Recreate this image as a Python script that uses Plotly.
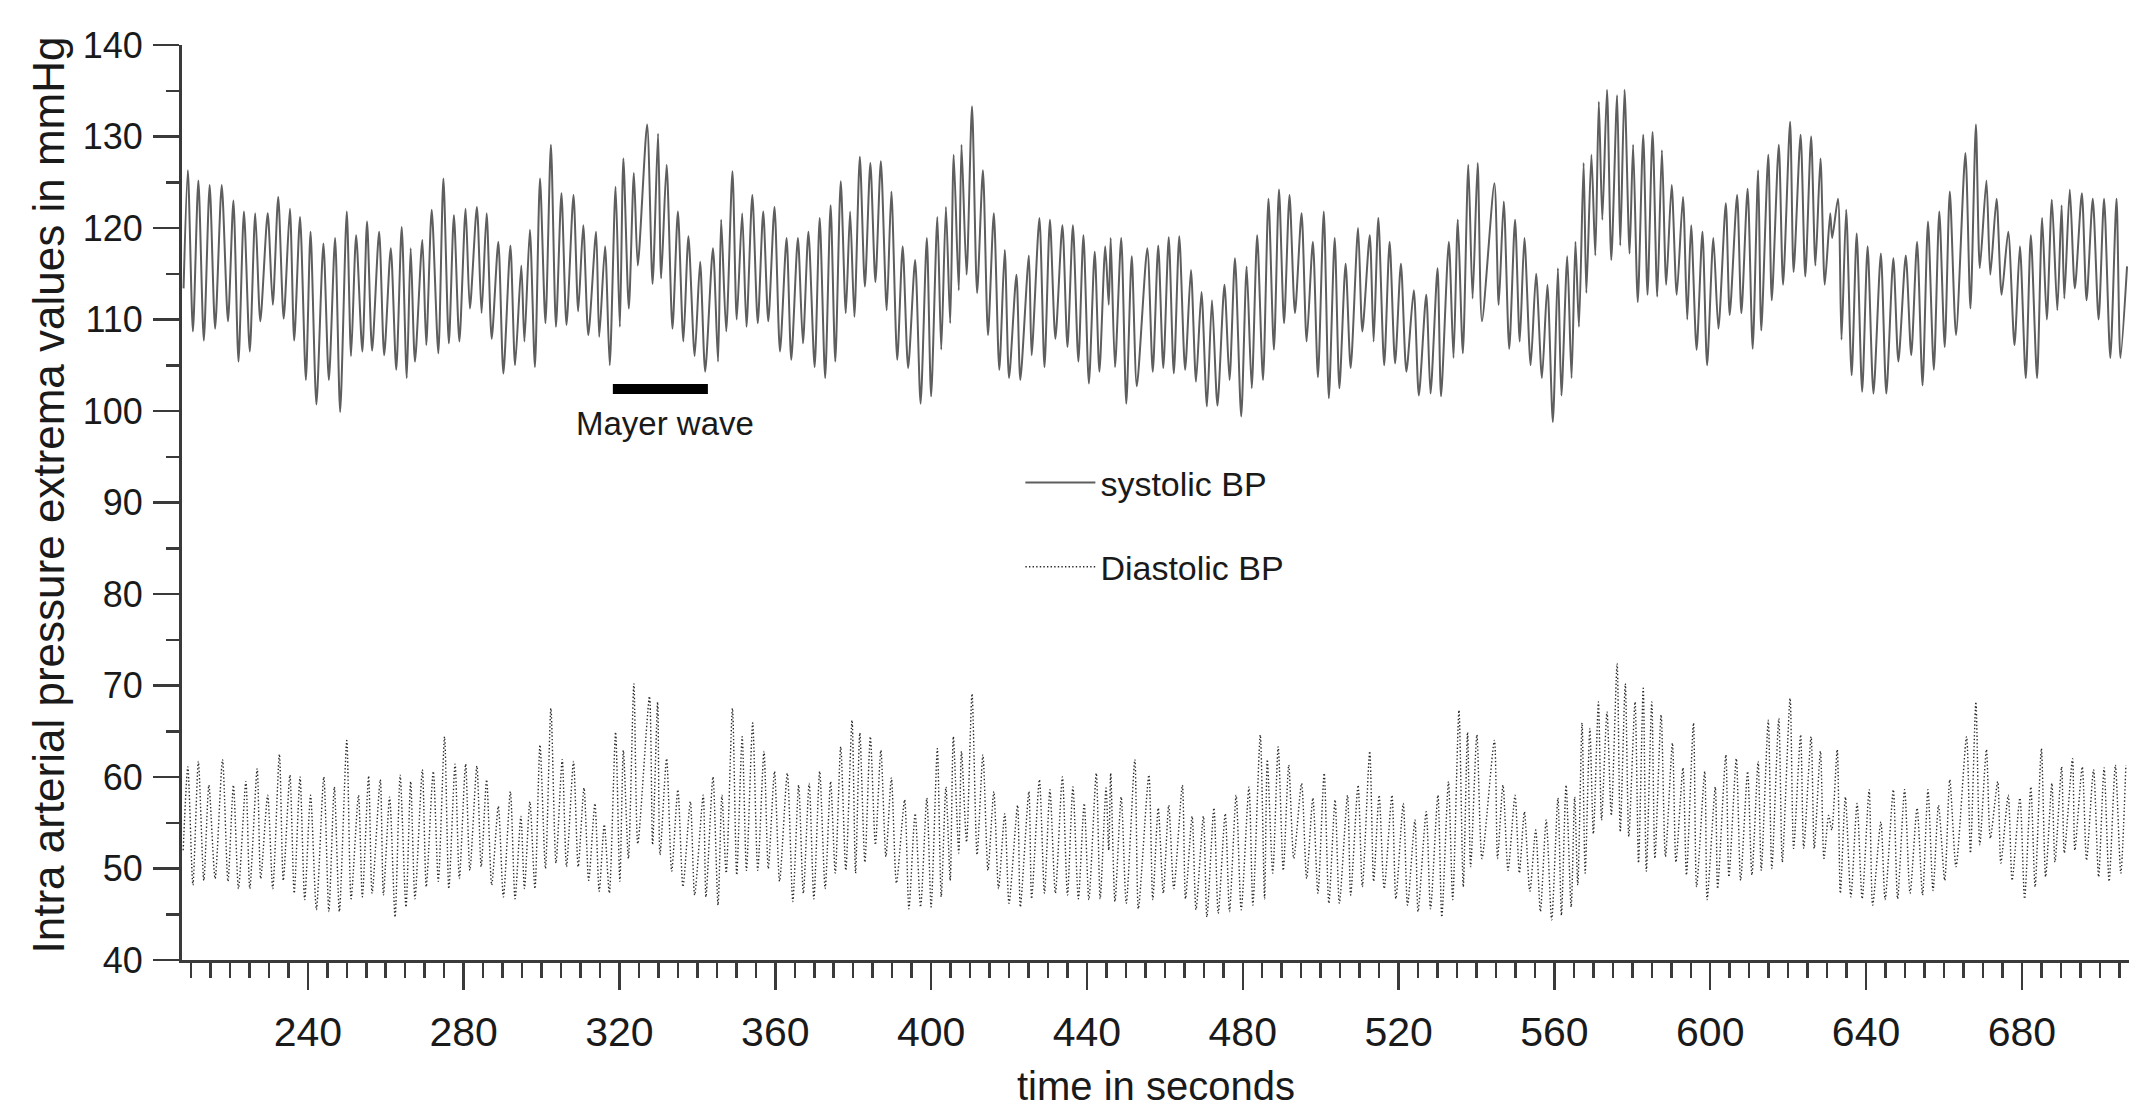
import plotly.graph_objects as go

# ---------------- data ----------------
sys_t = [208.1,209.2,210.5,211.9,213.3,214.8,216.2,217.9,219.5,220.9,222.2,223.6,225.1,226.5,227.8,229.7,231.0,232.4,233.8,235.4,236.5,238.0,239.5,240.7,242.2,244.0,245.4,247.0,248.3,250.0,251.1,252.4,254.0,255.2,256.5,258.3,259.6,261.3,262.7,264.1,265.4,266.4,267.5,269.4,270.4,271.8,273.5,274.8,276.2,277.5,278.9,280.5,281.6,283.4,284.6,285.9,287.2,288.9,290.2,292.0,293.2,294.8,295.6,297.0,298.3,299.6,301.0,302.4,303.7,305.1,306.4,308.2,309.4,310.7,312.0,314.0,314.8,316.3,317.5,319.0,320.1,321.0,322.4,323.7,324.7,327.1,328.5,329.9,330.7,332.1,333.6,335.0,336.4,337.7,339.3,340.7,342.0,344.0,345.3,346.1,347.4,349.0,350.1,351.5,352.6,354.1,355.5,356.9,358.2,359.8,361.2,362.9,364.1,365.8,367.1,368.5,370.1,371.4,372.8,374.2,
         375.4,376.8,378.1,379.2,380.3,381.7,383.0,384.4,385.7,387.1,388.6,389.8,391.3,392.7,394.1,395.9,397.3,398.9,400.0,401.6,402.6,403.8,404.9,405.8,407.1,407.8,409.1,410.5,411.8,413.3,414.6,416.1,417.5,418.9,420.0,421.9,422.9,425.1,425.8,427.8,429.1,430.5,431.9,433.7,435.0,436.4,437.8,439.1,440.5,442.0,443.2,444.7,445.6,446.1,447.2,448.8,450.1,451.5,452.8,455.5,456.9,458.3,459.6,461.0,462.3,463.7,465.2,466.7,468.0,469.4,470.8,472.1,473.5,475.3,476.6,478.0,479.6,481.0,482.3,483.7,485.2,486.6,488.0,489.3,490.6,492.0,493.4,495.1,496.4,498.0,499.3,500.8,502.1,503.6,504.8,506.4,507.7,509.6,510.7,512.6,513.6,514.8,516.3,517.7,519.1,520.6,522.0,523.9,525.2,527.1,528.2,530.0,530.9,532.9,534.1,535.2,536.5,537.9,539.0,540.3,541.4,
         544.6,545.7,547.0,548.4,549.9,551.1,552.3,553.9,555.3,556.8,558.2,559.6,560.9,561.8,563.3,564.4,565.4,566.3,567.5,568.2,569.5,570.5,571.4,572.3,573.5,574.6,576.1,576.9,578.0,579.3,580.2,581.4,582.8,583.9,585.2,586.4,587.6,588.7,590.1,591.4,593.0,594.1,595.1,596.5,598.0,599.2,600.8,602.1,604.0,605.0,606.9,608.0,609.6,610.9,612.3,613.1,614.9,615.8,617.6,618.7,620.5,621.4,623.2,624.4,625.9,627.0,628.3,629.4,630.8,631.3,632.8,633.7,634.9,636.3,637.6,639.0,640.4,641.9,643.8,645.2,647.0,648.3,650.2,651.6,653.1,654.5,655.9,657.4,658.8,660.2,661.5,663.1,665.5,666.8,668.2,669.2,670.9,671.9,673.5,674.8,676.5,678.1,679.5,681.0,682.3,683.9,685.2,686.4,687.7,689.1,690.2,690.9,692.3,693.6,695.4,696.6,698.2,699.7,701.1,702.7,704.3,705.3,707.0]
sys_v = [113.4,126.3,108.7,125.2,107.7,124.7,109.0,124.7,109.8,123.0,105.4,121.8,106.5,121.6,109.8,121.6,111.6,123.4,110.1,122.1,107.7,121.2,103.4,119.6,100.7,118.3,103.4,118.9,99.9,121.8,106.0,119.2,106.5,120.7,106.6,119.6,106.1,117.8,104.5,120.1,103.6,117.8,105.4,118.7,107.2,122.0,106.3,125.4,107.4,121.4,107.6,122.1,111.2,122.3,110.7,121.6,107.9,118.5,104.1,118.1,105.0,115.9,107.6,119.8,104.8,125.4,109.6,129.1,109.2,123.8,109.4,123.6,110.9,120.3,108.3,119.6,108.1,118.0,105.0,124.5,109.2,127.6,111.2,126.0,115.9,131.3,113.9,130.3,114.5,126.9,109.0,121.8,107.6,119.1,106.0,116.3,104.3,117.8,105.4,120.9,108.7,126.2,110.0,121.6,109.2,123.6,109.6,121.8,109.8,122.3,106.5,118.9,105.6,118.9,107.4,119.6,104.8,121.1,103.6,122.5,
         105.4,125.1,110.7,121.8,110.3,127.8,113.6,127.1,114.1,127.3,111.0,124.0,105.6,118.0,104.7,116.5,100.8,118.9,101.6,121.2,106.7,122.3,109.6,128.0,113.2,129.1,114.9,133.3,112.9,126.3,108.3,121.6,104.5,117.6,103.6,114.9,103.4,117.0,106.1,121.1,104.8,120.9,107.9,120.3,107.0,120.3,105.4,119.2,103.0,117.4,104.3,118.0,111.6,118.9,104.8,118.9,100.8,116.9,102.7,117.8,104.3,118.1,104.7,119.0,104.1,119.1,104.5,115.4,103.2,113.0,100.5,112.1,100.6,113.8,103.4,116.7,99.4,115.8,102.5,119.2,103.4,123.2,106.7,124.2,109.6,123.6,110.7,121.6,107.6,118.5,103.7,121.8,101.4,118.9,102.5,116.1,104.7,120.0,108.7,119.2,107.6,121.1,105.0,118.5,105.2,116.1,104.3,113.2,101.7,112.7,101.9,115.6,101.6,118.5,105.8,120.9,106.3,126.9,112.3,127.1,109.8,
         124.9,111.6,122.9,106.8,120.9,107.6,118.9,105.0,115.0,103.6,113.8,98.8,115.6,101.7,116.9,103.6,118.5,109.2,127.1,112.9,128.0,117.0,133.8,120.9,135.1,116.5,134.5,118.1,135.1,117.2,129.1,111.9,130.2,112.7,130.5,112.5,128.5,113.8,124.7,112.7,123.4,110.0,120.3,106.7,119.6,105.0,118.9,109.0,122.7,110.5,123.6,110.7,124.3,106.8,126.3,108.8,128.0,112.1,129.1,113.8,131.6,115.2,130.2,114.7,130.0,115.9,127.6,113.8,121.6,118.9,123.2,107.8,122.0,103.9,119.4,102.1,118.0,101.9,117.2,101.9,116.7,105.4,117.0,106.1,118.5,102.8,120.7,104.5,121.8,107.0,124.0,108.3,128.2,111.2,131.3,115.6,125.2,114.9,123.2,112.7,119.6,107.2,118.0,103.6,119.2,103.6,121.1,110.0,123.1,111.0,122.5,112.3,124.2,113.4,123.8,112.1,123.2,110.0,123.2,105.8,123.2,105.8,115.8]

dia_t = [208.0,209.2,210.5,211.9,213.3,214.6,216.2,218.1,219.5,220.9,222.2,224.1,225.1,227.0,227.9,229.7,231.0,232.7,233.7,235.4,236.5,238.0,239.2,240.7,242.2,244.1,245.4,246.8,248.1,250.0,251.1,253.0,254.0,255.6,256.5,258.6,259.4,261.0,262.4,263.7,265.2,266.4,267.5,269.4,270.4,272.2,273.5,275.1,276.2,277.8,278.9,280.5,281.6,283.4,284.5,285.9,287.2,288.9,290.2,292.0,293.2,294.7,295.6,297.0,298.3,299.6,301.0,302.4,303.7,305.3,306.4,308.2,309.4,310.9,312.1,313.7,314.8,316.1,317.4,319.0,320.1,321.0,322.3,323.7,324.7,327.7,328.5,329.8,330.4,332.1,333.4,335.0,336.3,338.2,339.3,341.5,342.2,344.0,345.3,346.3,347.4,349.0,350.1,351.5,352.6,354.2,355.5,357.1,358.2,359.8,361.1,363.1,364.5,366.0,367.2,368.7,369.9,371.4,372.8,374.2,
         375.4,376.8,378.1,379.7,380.6,381.7,383.0,384.4,385.7,387.1,388.4,389.8,391.1,393.2,394.3,395.9,397.3,398.9,400.0,401.6,402.6,403.8,404.9,405.7,407.1,407.8,409.1,410.5,411.8,413.3,414.6,416.1,417.3,418.9,420.0,422.2,422.9,425.1,425.8,427.8,429.1,430.5,431.9,433.7,435.0,436.4,437.8,439.3,440.5,442.4,443.4,444.9,445.6,446.1,447.2,448.8,450.1,452.3,453.2,455.9,456.9,458.3,459.6,461.0,462.3,464.5,465.3,467.0,468.0,469.9,470.8,472.6,473.7,475.5,476.6,478.3,479.6,481.6,482.6,484.5,485.6,486.3,487.7,489.1,490.4,491.8,493.1,495.1,496.4,498.0,499.3,500.9,502.1,503.7,504.8,506.9,507.7,509.6,510.7,512.6,513.6,515.0,516.3,518.3,519.3,521.2,522.3,524.2,525.0,527.1,528.2,530.1,531.1,532.8,533.9,535.5,536.6,537.7,538.5,540.1,541.4,
         544.6,545.4,546.8,548.1,549.9,551.0,552.3,553.7,555.2,556.4,557.9,559.3,560.9,561.8,563.0,564.3,565.2,566.0,567.1,567.9,569.1,570.0,571.3,572.1,573.5,574.6,576.1,576.9,578.2,579.1,580.7,581.6,582.8,583.6,585.0,585.8,587.4,588.5,590.3,591.2,593.0,593.9,595.7,596.5,598.6,599.2,601.3,601.9,604.0,604.8,606.7,607.8,609.6,610.7,612.3,613.1,614.9,615.8,617.6,618.5,620.5,621.4,623.2,624.0,625.9,626.7,628.3,629.2,630.4,631.2,632.6,633.4,634.7,636.1,637.7,639.0,640.8,641.7,643.8,644.9,647.0,648.1,649.9,651.3,653.1,654.5,655.9,657.2,658.6,660.2,661.5,663.1,665.8,666.8,668.2,669.2,670.9,671.9,673.8,674.6,676.5,677.5,679.5,680.7,682.3,683.4,685.0,686.1,687.7,688.5,690.2,690.9,693.0,693.6,695.5,696.6,698.4,699.7,701.1,702.4,704.0,705.4,706.7]
dia_v = [52.0,61.1,48.2,61.7,48.7,59.1,48.9,61.9,48.6,59.1,47.8,59.5,47.8,60.9,48.9,58.0,47.8,62.5,48.7,60.2,47.3,60.0,46.6,58.0,45.5,60.0,45.3,58.9,45.3,64.0,46.7,58.0,46.9,60.1,47.3,59.7,47.1,57.8,44.7,60.2,45.8,59.5,46.7,60.8,48.0,60.6,48.6,64.4,47.8,61.4,48.9,61.4,49.8,61.2,50.2,59.7,48.2,56.8,46.9,58.4,46.7,55.7,47.8,57.3,47.8,63.5,50.0,67.5,50.6,61.9,50.2,61.7,50.2,58.8,48.7,57.1,47.5,54.8,47.3,64.9,48.6,62.9,51.1,70.2,52.7,68.8,52.6,68.2,51.5,62.0,49.7,58.6,48.0,57.3,47.1,58.0,46.9,60.0,46.0,58.0,49.5,67.5,49.3,64.4,49.8,65.9,49.8,62.8,50.0,60.6,48.6,60.4,46.4,59.1,47.3,59.3,46.7,60.6,47.8,59.5,
         49.5,63.3,49.8,66.2,49.5,64.8,50.7,64.4,52.6,62.9,51.3,59.9,48.4,57.5,45.6,56.0,45.8,57.7,45.8,63.1,46.9,58.9,48.7,64.4,51.7,62.8,52.9,69.1,51.5,62.4,49.8,58.4,47.8,56.0,46.2,56.9,45.8,58.4,46.7,59.7,47.3,58.6,47.3,60.0,47.1,58.9,46.7,57.1,46.6,60.4,46.7,58.8,52.0,60.4,46.4,57.8,46.2,61.9,45.6,60.2,46.6,56.6,47.3,56.9,47.8,59.1,46.7,55.7,45.5,55.7,44.7,56.6,45.1,56.0,45.3,58.0,45.5,58.9,46.0,64.6,46.7,61.9,49.5,63.3,49.8,61.3,51.1,59.3,48.9,57.7,47.3,60.4,46.2,57.5,46.2,58.0,47.1,59.1,48.0,62.8,48.6,58.0,47.8,58.0,46.7,57.1,46.0,55.3,45.3,56.2,45.6,58.0,44.7,59.5,46.6,67.3,48.0,64.9,50.2,64.6,51.1,
         64.0,51.1,59.1,49.8,58.0,49.5,56.2,47.5,54.2,45.3,55.3,44.4,57.7,44.9,59.1,45.8,57.8,48.2,65.9,49.5,65.3,53.8,68.2,55.3,67.1,55.8,72.4,54.0,70.2,53.5,68.2,50.6,69.7,49.7,68.2,51.1,66.8,51.3,63.7,50.7,61.0,49.3,65.9,48.0,60.6,46.6,58.9,47.8,62.4,49.1,62.0,48.7,60.6,49.3,61.7,49.8,66.2,50.0,66.4,50.7,68.6,52.2,64.6,52.2,64.4,52.2,62.8,51.1,55.8,54.2,63.0,47.3,57.8,46.9,57.1,46.7,58.6,46.0,55.1,46.6,58.6,46.7,58.6,47.3,56.6,47.1,58.6,47.6,56.9,48.7,59.7,50.2,64.4,51.7,68.2,52.6,63.0,53.3,59.5,50.6,58.0,48.7,57.7,46.7,58.9,48.0,63.1,49.1,59.3,50.7,61.1,51.7,62.0,52.0,61.1,50.9,60.8,49.1,61.0,48.6,61.3,49.5,61.3]

mayer_t = [318.3, 342.7]
mayer_level = [102.4, 102.4]
mayer_label = "Mayer wave"
mayer_label_pos = (331.7, 98.6)

x_title = "time in seconds"
y_title = "Intra arterial pressure extrema values in mmHg"

x_range = [207.7, 707.5]
y_range = [40, 140]

FONT = "Liberation Sans, Arial, sans-serif"
AX = "#3a3a3a"
TXT = "#1a1a1a"

fig = go.Figure()
fig.add_trace(go.Scatter(
    x=sys_t, y=sys_v, mode="lines", name="systolic BP", legendgroup="s",
    line=dict(color="#5e5e5e", width=2.0, shape="spline", smoothing=0.7),
    hoverinfo="skip"))
fig.add_trace(go.Scatter(
    x=dia_t, y=dia_v, mode="lines", name="Diastolic BP", legendgroup="d",
    line=dict(color="#2a2a2a", width=1.4, dash="1.4px,2.2px", shape="spline", smoothing=0.7),
    hoverinfo="skip"))
fig.add_trace(go.Scatter(
    x=mayer_t, y=mayer_level, mode="lines", showlegend=False,
    line=dict(color="black", width=10), hoverinfo="skip"))

fig.add_annotation(x=mayer_label_pos[0], y=mayer_label_pos[1], text=mayer_label,
                   showarrow=False, xref="x", yref="y",
                   font=dict(family=FONT, size=33, color=TXT))

# axis titles as annotations for exact placement
fig.add_annotation(x=0.5, y=0, xref="paper", yref="paper", text=x_title,
                   showarrow=False, yanchor="middle", yshift=-126,
                   font=dict(family=FONT, size=40, color=TXT))
fig.add_annotation(x=0, y=0.5, xref="paper", yref="paper", text=y_title,
                   showarrow=False, textangle=-90, xanchor="center", yanchor="middle",
                   xshift=-134, yshift=7,
                   font=dict(family=FONT, size=44, color=TXT))

fig.update_layout(
    width=2129, height=1110,
    margin=dict(l=182, r=0, t=45, b=150, pad=0),
    paper_bgcolor="white", plot_bgcolor="white",
    showlegend=True,
    legend=dict(x=0.4306, y=0.553, xanchor="left", yanchor="top",
                font=dict(family=FONT, size=34, color=TXT),
                bgcolor="rgba(0,0,0,0)", itemwidth=70, tracegroupgap=37,
                traceorder="grouped"),
    hovermode=False,
    font=dict(family=FONT, color=TXT),
)

fig.update_xaxes(
    range=x_range, showgrid=False, zeroline=False, automargin=False,
    showline=True, linecolor=AX, linewidth=3,
    ticks="outside", ticklen=27, tickwidth=2.5, tickcolor=AX,
    tick0=0, dtick=40, ticklabelstandoff=7,
    tickfont=dict(family=FONT, size=41, color=TXT),
    minor=dict(ticks="outside", ticklen=15, tickwidth=2.5, tickcolor=AX, dtick=5, tick0=0, showgrid=False),
)
fig.update_yaxes(
    range=y_range, showgrid=False, zeroline=False, automargin=False,
    showline=True, linecolor=AX, linewidth=3,
    ticks="outside", ticklen=26, tickwidth=2.5, tickcolor=AX,
    tick0=0, dtick=10, ticklabelstandoff=3,
    tickfont=dict(family=FONT, size=36, color=TXT),
    minor=dict(ticks="outside", ticklen=13, tickwidth=2.5, tickcolor=AX, dtick=5, tick0=0, showgrid=False),
)

fig.write_html("out.html", include_plotlyjs=True,
               config={"displayModeBar": False, "staticPlot": True},
               post_script="document.body.style.margin='0';document.body.style.overflow='hidden';")
